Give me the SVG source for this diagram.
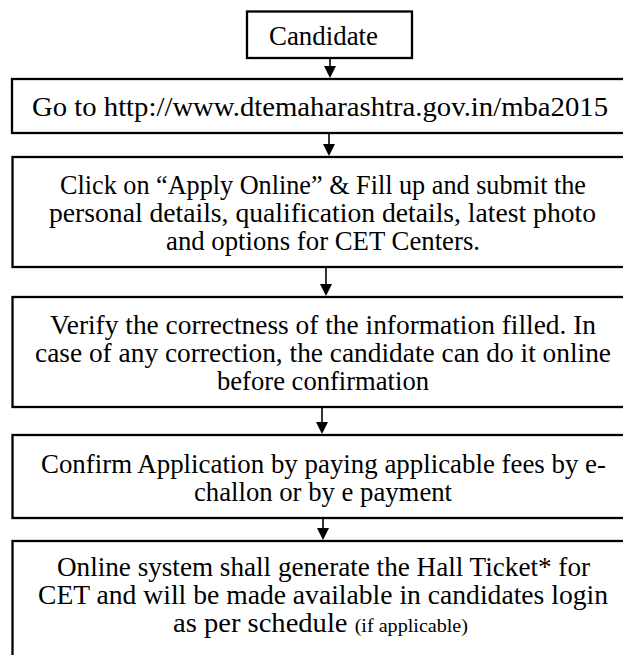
<svg xmlns="http://www.w3.org/2000/svg" width="623" height="655" viewBox="0 0 623 655">
<defs>
<style>
.box{fill:#fff;stroke:#000;stroke-width:2.3}
.t{font-family:"Liberation Serif","Times New Roman",serif;font-size:27px;fill:#000;text-anchor:middle}
.s{font-size:19px}
.conn line{stroke:#000;stroke-width:1.6}
.conn polygon{fill:#000}
</style>
</defs>
<rect width="623" height="655" fill="#fff"/>
<g id="candidate">
<rect class="box" x="247" y="11.5" width="165" height="46.5"/>
<text class="t" x="323.5" y="45" textLength="109" lengthAdjust="spacingAndGlyphs">Candidate</text>
</g>
<g id="goto">
<rect class="box" x="12" y="79" width="640" height="54"/>
<text class="t" x="320" y="116" textLength="576" lengthAdjust="spacingAndGlyphs">Go to http://www.dtemaharashtra.gov.in/mba2015</text>
</g>
<g id="apply">
<rect class="box" x="12.5" y="157" width="640" height="110"/>
<text class="t" x="323" y="194" textLength="526" lengthAdjust="spacingAndGlyphs">Click on “Apply Online” &amp; Fill up and submit the</text>
<text class="t" x="322.5" y="222" textLength="547" lengthAdjust="spacingAndGlyphs">personal details, qualification details, latest photo</text>
<text class="t" x="323" y="250" textLength="314" lengthAdjust="spacingAndGlyphs">and options for CET Centers.</text>
</g>
<g id="verify">
<rect class="box" x="12.5" y="297" width="640" height="110"/>
<text class="t" x="323" y="334" textLength="546" lengthAdjust="spacingAndGlyphs">Verify the correctness of the information filled. In</text>
<text class="t" x="323" y="362" textLength="576" lengthAdjust="spacingAndGlyphs">case of any correction, the candidate can do it online</text>
<text class="t" x="323" y="390" textLength="212" lengthAdjust="spacingAndGlyphs">before confirmation</text>
</g>
<g id="confirm">
<rect class="box" x="12.5" y="435" width="640" height="83"/>
<text class="t" x="323.5" y="473" textLength="565" lengthAdjust="spacingAndGlyphs">Confirm Application by paying applicable fees by e-</text>
<text class="t" x="323" y="501" textLength="258" lengthAdjust="spacingAndGlyphs">challon or by e payment</text>
</g>
<g id="hallticket">
<rect class="box" x="12.5" y="541" width="640" height="140"/>
<text class="t" x="323.5" y="576" textLength="533" lengthAdjust="spacingAndGlyphs">Online system shall generate the Hall Ticket* for</text>
<text class="t" x="323" y="604" textLength="570" lengthAdjust="spacingAndGlyphs">CET and will be made available in candidates login</text>
<text class="t" x="320.5" y="632" textLength="295" lengthAdjust="spacingAndGlyphs">as per schedule <tspan class="s">(if applicable)</tspan></text>
</g>
<g id="connectors" class="conn">
<line x1="330" y1="58" x2="330" y2="67"/>
<polygon points="324,66 336,66 330,78"/>
<line x1="329" y1="133" x2="329" y2="145"/>
<polygon points="323,144 335,144 329,156"/>
<line x1="326" y1="267" x2="326" y2="285"/>
<polygon points="320,284 332,284 326,296"/>
<line x1="322" y1="407" x2="322" y2="423"/>
<polygon points="316,422 328,422 322,434"/>
<line x1="323" y1="518" x2="323" y2="529"/>
<polygon points="317,528 329,528 323,540"/>
</g>
</svg>
